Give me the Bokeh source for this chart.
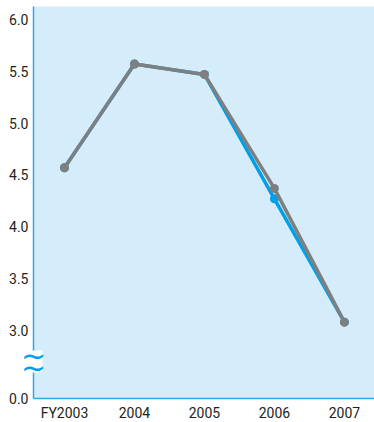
from bokeh.plotting import figure
from bokeh.models import FixedTicker, Label, ColumnDataSource, BoxAnnotation
from bokeh.embed import file_html
from bokeh.resources import INLINE

# Data
years = ["FY2003", "2004", "2005", "2006", "2007"]
gray_values = [4.57, 5.57, 5.47, 4.37, 3.08]
blue_values = [4.57, 5.57, 5.47, 4.27, 3.08]
y_tick_values = [3.0, 3.5, 4.0, 4.5, 5.0, 5.5, 6.0]
zero_label = "0.0"

# Broken axis: 0.0 is drawn just below 3.0
ZERO_POS = 2.344
Y_TOP = 6.125
X_LEFT = -0.443

BG = "#D5EDFA"
AXIS_BLUE = "#29ABE2"
LINE_BLUE = "#00A0E9"
GRAY = "#7F7F7F"
FONT = "Roboto"

x = list(range(len(years)))
X_RIGHT = len(years) - 1 + 0.43

p = figure(width=374, height=422, output_backend="svg", toolbar_location=None,
           x_range=(-0.914, X_RIGHT), y_range=(2.112, 6.183),
           min_border_left=0, min_border_right=0, min_border_top=0, min_border_bottom=0)
p.background_fill_color = "white"
p.border_fill_color = "white"
p.outline_line_color = None
p.grid.grid_line_color = None

# plot area background
p.add_layout(BoxAnnotation(left=X_LEFT, right=X_RIGHT, bottom=ZERO_POS, top=Y_TOP,
                           fill_color=BG, fill_alpha=1.0, line_color=None, level="underlay"))

src_b = ColumnDataSource(dict(x=x, y=blue_values))
src_g = ColumnDataSource(dict(x=x, y=gray_values))
p.line("x", "y", source=src_b, line_color=LINE_BLUE, line_width=3.5)
p.scatter("x", "y", source=src_b, size=9, fill_color=LINE_BLUE, line_color=None)
p.line("x", "y", source=src_g, line_color=GRAY, line_width=3.5)
p.scatter("x", "y", source=src_g, size=9, fill_color=GRAY, line_color=None)

# Axes
p.xaxis.ticker = FixedTicker(ticks=x)
p.xaxis.major_label_overrides = {i: years[i] for i in x}
p.xaxis.bounds = (X_LEFT, X_RIGHT)
p.xaxis.fixed_location = ZERO_POS
p.yaxis.ticker = FixedTicker(ticks=[ZERO_POS] + y_tick_values)
ov = {v: f"{v:.1f}" for v in y_tick_values}
ov[ZERO_POS] = zero_label
p.yaxis.major_label_overrides = ov
p.yaxis.bounds = (ZERO_POS, Y_TOP)
p.yaxis.fixed_location = X_LEFT

for ax in (p.xaxis[0], p.yaxis[0]):
    ax.axis_line_color = AXIS_BLUE
    ax.axis_line_width = 1.5
    ax.major_tick_line_color = None
    ax.minor_tick_line_color = None
    ax.major_tick_out = 0
    ax.major_tick_in = 0
    ax.minor_tick_out = 0
    ax.minor_tick_in = 0
    ax.major_label_text_font = FONT
    ax.major_label_text_font_size = "14px"
    ax.major_label_text_color = "#231F20"
p.yaxis.major_label_standoff = 5
p.xaxis.major_label_standoff = 7

# Axis break symbol: white patch with two wavy strokes
p.add_layout(BoxAnnotation(left=-0.60, right=-0.314, bottom=2.595, top=2.807,
                           fill_color="white", fill_alpha=1.0, line_color=None))
for yy in (2.755, 2.639):
    p.add_layout(Label(x=X_LEFT, y=yy, text="~", text_color=LINE_BLUE,
                       text_font="DejaVu Sans", text_font_size="30px",
                       text_align="center", text_baseline="middle"))

open("out.html", "w").write(file_html(p, INLINE))
